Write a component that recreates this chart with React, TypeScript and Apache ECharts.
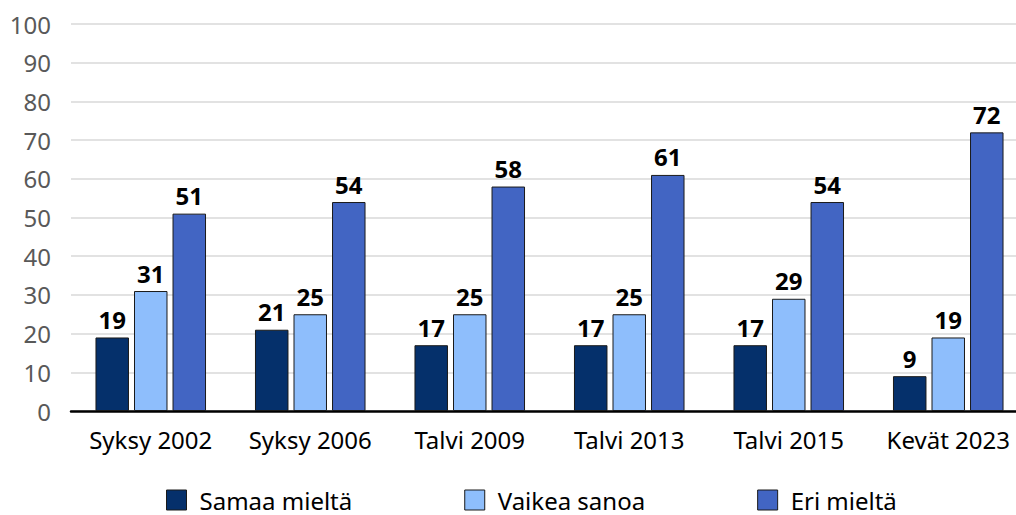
import React, { useEffect, useRef } from "react";
import * as echarts from "echarts";

const categories = ["Syksy 2002", "Syksy 2006", "Talvi 2009", "Talvi 2013", "Talvi 2015", "Kevät 2023"];
const samaaMielta = [19, 21, 17, 17, 17, 9];
const vaikeaSanoa = [31, 25, 25, 25, 29, 19];
const eriMielta = [51, 54, 58, 61, 54, 72];
const seriesNames = ["Samaa mieltä", "Vaikea sanoa", "Eri mieltä"];
const colors = ["#05306B", "#8EBEFC", "#4265C3"];

const FONT = "'Noto Sans', 'Open Sans', sans-serif";

export default function App() {
  const ref = useRef<HTMLDivElement>(null);
  useEffect(() => {
    if (!ref.current) return;
    const chart = echarts.init(ref.current, undefined, { renderer: "svg" });
    const data = [samaaMielta, vaikeaSanoa, eriMielta];
    chart.setOption({
      animation: false,
      textStyle: { fontFamily: FONT },
      grid: { left: 71, right: 0, top: 24, bottom: 104, containLabel: false },
      legend: {
        top: 484,
        left: 162,
        padding: 4,
        itemWidth: 20,
        itemHeight: 20,
        itemGap: 112,
        icon: "rect",
        itemStyle: { borderColor: "#1a1a1a", borderWidth: 1 },
        textStyle: { fontSize: 24, color: "#000", fontFamily: FONT, padding: [0, 0, 0, 8] },
        data: seriesNames,
      },
      xAxis: {
        type: "category",
        data: categories,
        axisLine: { lineStyle: { color: "#000", width: 2.5 } },
        axisTick: { show: false },
        axisLabel: { interval: 0, fontSize: 24, color: "#000", margin: 16, fontFamily: FONT },
      },
      yAxis: {
        type: "value",
        min: 0,
        max: 100,
        interval: 10,
        axisLine: { show: false },
        axisTick: { show: false },
        splitLine: { lineStyle: { color: "#D9D9D9", width: 1.5 } },
        axisLabel: { fontSize: 24, color: "#595959", margin: 20, fontFamily: FONT },
      },
      series: seriesNames.map((name, i) => ({
        name,
        type: "bar",
        data: data[i],
        barWidth: "21%",
        barGap: "15%",
        itemStyle: { color: colors[i], borderColor: "#1a1a1a", borderWidth: 1 },
        label: {
          show: true,
          position: "top",
          distance: 6,
          fontSize: 24,
          fontWeight: "bold",
          color: "#000",
          fontFamily: FONT,
        },
      })),
    });
    return () => chart.dispose();
  }, []);
  return (
    <div
      ref={ref}
      style={{ position: "fixed", left: 0, top: 0, width: 1028, height: 515, background: "#fff" }}
    />
  );
}
